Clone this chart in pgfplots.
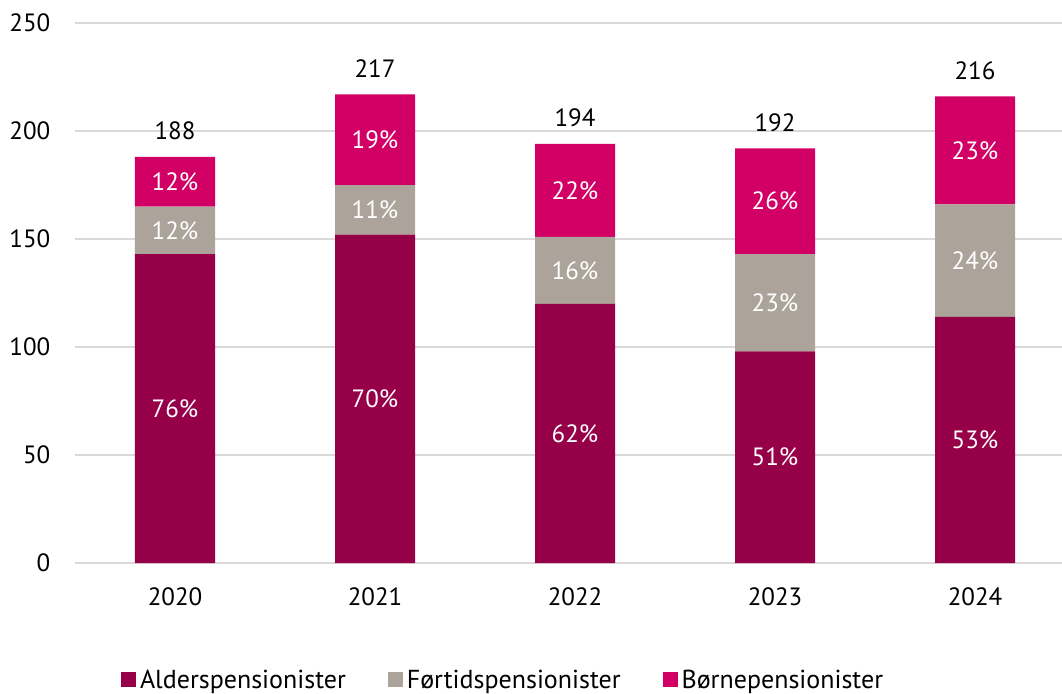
\documentclass[border=0pt]{standalone}
\usepackage{pgfplots}
\pgfplotsset{compat=1.18}
\usepackage{pgfplotstable}
\usepackage{fontspec}
\setmainfont{PT Sans}
\definecolor{alder}{HTML}{960048}
\definecolor{fort}{HTML}{ACA39A}
\definecolor{borne}{HTML}{D20064}
\definecolor{gridc}{HTML}{D9D9D9}
\pgfplotstableread{
x alder fort borne total palder pfort pborne
0 143 22 23 188 76 12 12
1 152 23 42 217 70 11 19
2 120 31 43 194 62 16 22
3 98 45 49 192 51 23 26
4 114 52 50 216 53 24 23
}\data
\pgfplotsset{overlay axis/.style={
  at={(37.5pt,65pt)}, anchor=south west,
  scale only axis, width=493.5pt, height=270pt,
  xmin=-0.5, xmax=4.435, ymin=0, ymax=250}}
\begin{document}
\fontsize{12.5}{15}\selectfont
\begin{tikzpicture}
\useasboundingbox (0,0) rectangle (531pt,346.5pt);
\begin{axis}[
  overlay axis,
  ybar stacked, bar width=40pt,
  ytick={0,50,100,150,200,250},
  xtick={0,1,2,3,4}, xticklabels={2020,2021,2022,2023,2024},
  axis line style={draw=none},
  major tick length=0pt,
  ymajorgrids, grid style={gridc, line width=0.9pt},
  tick label style={font=\fontsize{12.5}{15}\selectfont},
  /pgf/number format/assume math mode=true,
  yticklabel style={xshift=-8pt},
  xticklabel style={yshift=-8pt},
  legend style={at={(0.4347,-0.2185)}, anchor=center, draw=none,
    legend columns=-1, font=\fontsize{13}{15}\selectfont,
    /tikz/every even column/.append style={column sep=19pt}},
  legend image code/.code={\fill[#1,draw=none] (0pt,-3.2pt) rectangle (7.5pt,4.3pt);},
]
\addplot[fill=alder, draw=none] table[x=x, y=alder] {\data};
\addlegendentry{Alderspensionister}
\addplot[fill=fort, draw=none] table[x=x, y=fort] {\data};
\addlegendentry{Førtidspensionister}
\addplot[fill=borne, draw=none] table[x=x, y=borne] {\data};
\addlegendentry{Børnepensionister}
\end{axis}
% percentage labels, centred in each segment
\begin{axis}[
  overlay axis, hide axis,
  nodes near coords={\pgfplotspointmeta\%},
  point meta=explicit symbolic,
  every node near coord/.style={anchor=center, text=white, font=\fontsize{12.5}{15}\selectfont},
]
\addplot[only marks, mark=none] table[x=x, y expr=\thisrow{alder}/2, meta=palder] {\data};
\addplot[only marks, mark=none] table[x=x, y expr=\thisrow{alder}+\thisrow{fort}/2, meta=pfort] {\data};
\addplot[only marks, mark=none] table[x=x, y expr=\thisrow{alder}+\thisrow{fort}+\thisrow{borne}/2, meta=pborne] {\data};
\end{axis}
% totals above the bars
\begin{axis}[
  overlay axis, hide axis,
  nodes near coords={\pgfplotspointmeta},
  point meta=explicit symbolic,
  every node near coord/.style={anchor=south, text=black, yshift=4pt, font=\fontsize{12.5}{15}\selectfont},
]
\addplot[only marks, mark=none] table[x=x, y=total, meta=total] {\data};
\end{axis}
\end{tikzpicture}
\end{document}
